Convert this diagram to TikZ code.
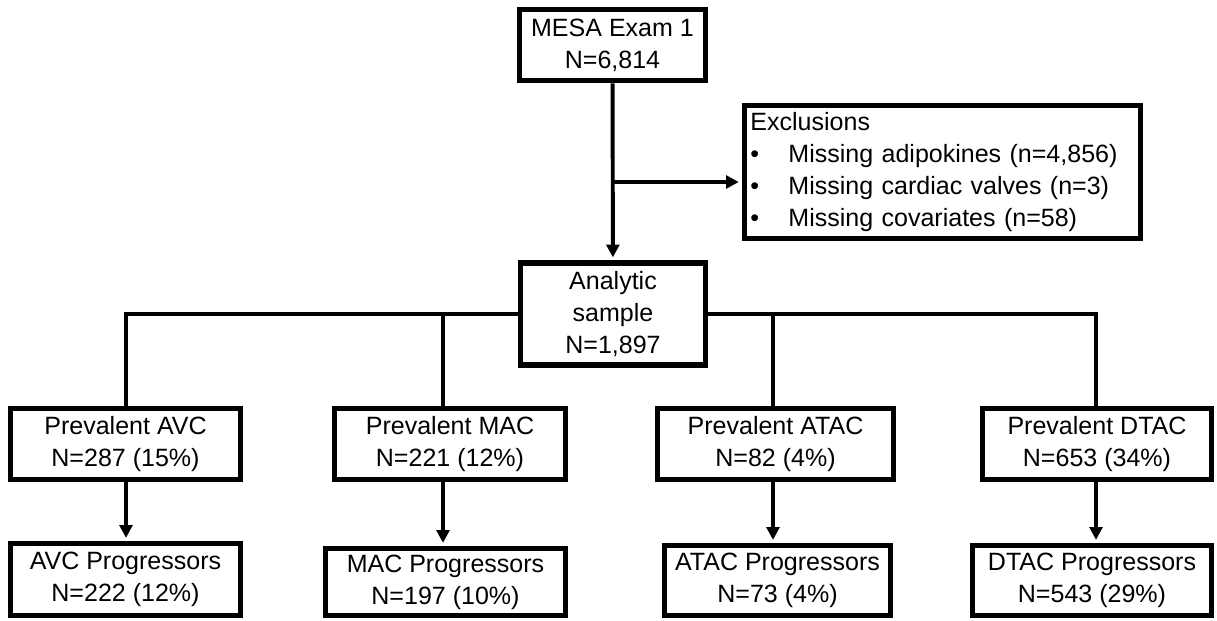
\documentclass[tikz,border=0pt]{standalone}
\usepackage{fontspec}
\setmainfont{Liberation Sans}
\usetikzlibrary{arrows.meta}

\begin{document}
\begin{tikzpicture}[x=0.025cm,y=-0.025cm,
  box/.style={draw,line width=4pt,inner sep=0pt,align=center,
    font=\fontsize{17.8}{22.8}\selectfont},
  link/.style={line width=2.8pt},
  arrow/.style={link,->,shorten >=2pt},
  >={Triangle[length=0.32cm,width=0.32cm]}]
\useasboundingbox (0,0) rectangle (1217,620);
% boxes
\node[box,minimum width=4.65cm,minimum height=1.775cm] (mesa) at (612.5,45) {MESA Exam 1\\N=6,814};
\node[box,align=left,text width=9.6cm,minimum width=9.9cm,minimum height=3.325cm] (excl) at (942.5,172)
  {Exclusions\\
   \makebox[0.95cm][l]{\textbullet}Missing adipokines (n=4,856)\\
   \makebox[0.95cm][l]{\textbullet}Missing cardiac valves (n=3)\\
   \makebox[0.95cm][l]{\textbullet}Missing covariates (n=58)};
\node[box,minimum width=4.625cm,minimum height=2.55cm] (sample) at (613,314) {Analytic\\sample\\N=1,897};
\node[box,minimum width=5.75cm,minimum height=1.775cm] (pavc) at (125.5,444) {Prevalent AVC\\N=287 (15\%)};
\node[box,minimum width=5.775cm,minimum height=1.775cm] (pmac) at (450,444) {Prevalent MAC\\N=221 (12\%)};
\node[box,minimum width=5.9cm,minimum height=1.775cm] (patac) at (775.5,444) {Prevalent ATAC\\N=82 (4\%)};
\node[box,minimum width=5.725cm,minimum height=1.775cm] (pdtac) at (1097,444) {Prevalent DTAC\\N=653 (34\%)};
\node[box,minimum width=5.75cm,minimum height=1.8cm] (gavc) at (125.5,579.5) {AVC Progressors\\N=222 (12\%)};
\node[box,minimum width=6cm,minimum height=1.675cm] (gmac) at (445.5,582) {MAC Progressors\\N=197 (10\%)};
\node[box,minimum width=5.65cm,minimum height=1.75cm] (gatac) at (777.5,580.5) {ATAC Progressors\\N=73 (4\%)};
\node[box,minimum width=5.975cm,minimum height=1.75cm] (gdtac) at (1092,580.5) {DTAC Progressors\\N=543 (29\%)};
% junctions
\coordinate (cut) at (612,182);
\coordinate (bavc) at (126,314);
\coordinate (bmac) at (443,314);
\coordinate (batac) at (773,314);
\coordinate (bdtac) at (1096,314);
% connectors
\draw[arrow] (mesa) -- (sample);
\draw[arrow] (cut) -- (cut -| excl.west);
\draw[link] (sample.west) -- (bavc) -- (bavc |- pavc.north);
\draw[link] (bmac) -- (bmac |- pmac.north);
\draw[link] (sample.east) -- (bdtac) -- (bdtac |- pdtac.north);
\draw[link] (batac) -- (batac |- patac.north);
\draw[arrow] (bavc |- pavc.south) -- (bavc |- gavc.north);
\draw[arrow] (bmac |- pmac.south) -- (bmac |- gmac.north);
\draw[arrow] (batac |- patac.south) -- (batac |- gatac.north);
\draw[arrow] (bdtac |- pdtac.south) -- (bdtac |- gdtac.north);
\end{tikzpicture}
\end{document}
